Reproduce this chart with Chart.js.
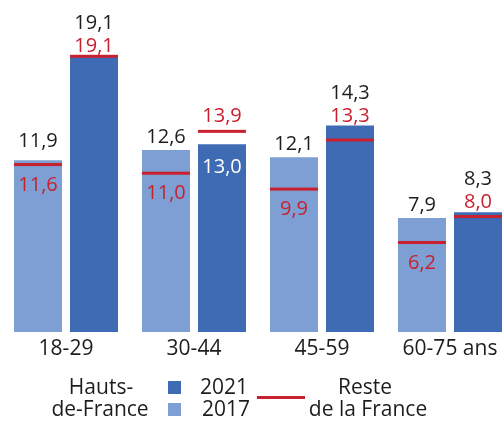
<!DOCTYPE html>
<html>
<head>
<meta charset="utf-8">
<script src="https://cdn.jsdelivr.net/npm/chart.js@4"></script>
<style>
  html, body { margin: 0; padding: 0; background: #fff; overflow: hidden; }
  #wrap { width: 504px; height: 421px; overflow: hidden; }
  canvas { display: block; }
</style>
</head>
<body>
<div id="wrap"><canvas id="chart" width="514" height="421"></canvas></div>
<script>
const ageGroups = ['18-29', '30-44', '45-59', '60-75 ans'];
const hdf2017 = [11.9, 12.6, 12.1, 7.9];
const hdf2021 = [19.1, 13.0, 14.3, 8.3];
const reste2017 = [11.6, 11.0, 9.9, 6.2];
const reste2021 = [19.1, 13.9, 13.3, 8.0];

const lightBlue = '#7e9fd3';
const darkBlue = '#3f6ab4';
const red = '#c9202f';
const ink = '#1d1d1b';
const font = '"Open Sans", sans-serif';

function fmt(v) {
    return v.toFixed(1).replace('.', ',');
}

// red "Reste de la France" markers + value labels
const restePlugin = {
    id: 'reste',
    afterDatasetsDraw(chart) {
        const ctx = chart.ctx;
        const y = chart.scales.y;
        const resteSets = [reste2017, reste2021];
        ctx.save();
        ctx.font = '20px ' + font;
        ctx.textAlign = 'center';
        ctx.textBaseline = 'alphabetic';
        chart.data.datasets.forEach((ds, di) => {
            const meta = chart.getDatasetMeta(di);
            meta.data.forEach((bar, i) => {
                const val = ds.data[i];
                const reste = resteSets[di][i];
                const top = bar.y;
                const lineY = y.getPixelForValue(reste);
                const left = bar.x - bar.width / 2;
                ctx.fillStyle = red;
                ctx.fillRect(left, lineY - 1.5, bar.width, 3);
                if (di === 0) {
                    // keep the black label clear of a red line sitting just under the top
                    const gap = lineY - top < 8 ? 13 : 7;
                    ctx.fillStyle = ink;
                    ctx.fillText(fmt(val), bar.x, top - gap);
                    ctx.fillStyle = red;
                    ctx.fillText(fmt(reste), bar.x, lineY + 26);
                } else if (reste > val) {
                    ctx.fillStyle = red;
                    ctx.fillText(fmt(reste), bar.x, lineY - 9);
                    ctx.fillStyle = '#fff';
                    ctx.fillText(fmt(val), bar.x, top + 29);
                } else {
                    const ref = Math.min(top, lineY);
                    ctx.fillStyle = red;
                    ctx.fillText(fmt(reste), bar.x, ref - 4);
                    ctx.fillStyle = ink;
                    ctx.fillText(fmt(val), bar.x, ref - 27);
                }
            });
        });
        ctx.restore();
    }
};

const legendPlugin = {
    id: 'customLegend',
    afterDraw(chart) {
        const ctx = chart.ctx;
        ctx.save();
        ctx.font = '21px ' + font;
        ctx.textBaseline = 'alphabetic';
        ctx.fillStyle = ink;
        ctx.textAlign = 'center';
        ctx.fillText('Hauts-', 101, 394);
        ctx.fillText('de-France', 100, 416);
        ctx.fillText('Reste', 365, 394);
        ctx.fillText('de la France', 368, 416);
        ctx.textAlign = 'left';
        ctx.fillText('2021', 200, 394);
        ctx.fillText('2017', 202, 416);
        ctx.fillStyle = darkBlue;
        ctx.fillRect(168, 381, 13, 13);
        ctx.fillStyle = lightBlue;
        ctx.fillRect(168, 403, 13, 13);
        ctx.fillStyle = red;
        ctx.fillRect(257, 396, 48, 3);
        ctx.restore();
    }
};

new Chart(document.getElementById('chart'), {
    type: 'bar',
    data: {
        labels: ageGroups,
        datasets: [
            { label: '2017', data: hdf2017, backgroundColor: lightBlue },
            { label: '2021', data: hdf2021, backgroundColor: darkBlue }
        ]
    },
    options: {
        responsive: false,
        animation: false,
        devicePixelRatio: 1,
        layout: { padding: { left: 2, right: 0, top: 0, bottom: 0 } },
        datasets: { bar: { categoryPercentage: 0.875, barPercentage: 0.857 } },
        plugins: {
            legend: { display: false },
            tooltip: { enabled: false }
        },
        scales: {
            x: {
                grid: { display: false, drawTicks: false },
                border: { display: false },
                ticks: { color: ink, font: { family: font, size: 21 }, padding: 4 },
                afterFit(scale) { scale.height = 89; }
            },
            y: { display: false, min: 0, max: 23 }
        }
    },
    plugins: [restePlugin, legendPlugin]
});
</script>
</body>
</html>
